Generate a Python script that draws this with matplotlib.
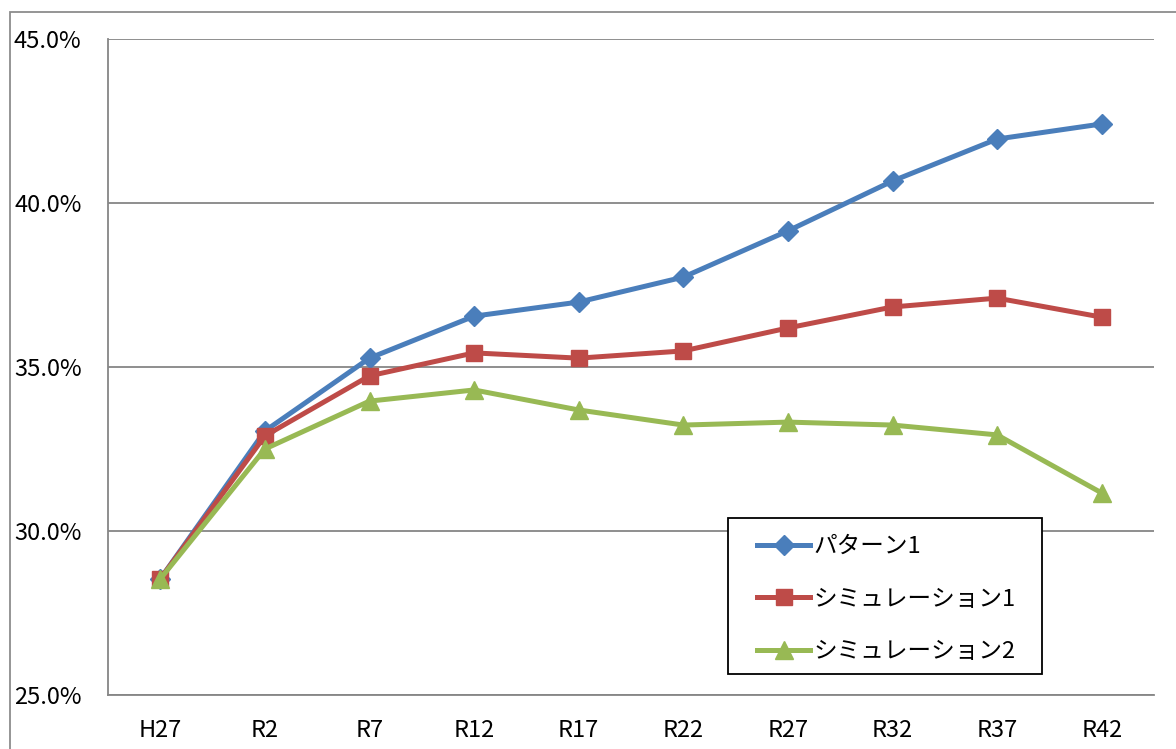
import matplotlib
matplotlib.use("Agg")
import matplotlib.pyplot as plt
from matplotlib.patches import Rectangle
from matplotlib.ticker import FuncFormatter

plt.rcParams['font.family'] = ['Noto Sans CJK JP', 'DejaVu Sans']

categories = ["H27", "R2", "R7", "R12", "R17", "R22", "R27", "R32", "R37", "R42"]
pattern1 = [28.54, 33.05, 35.27, 36.55, 36.98, 37.74, 39.15, 40.67, 41.95, 42.41]
simulation1 = [28.54, 32.90, 34.73, 35.43, 35.27, 35.49, 36.19, 36.83, 37.10, 36.52]
simulation2 = [28.54, 32.50, 33.96, 34.30, 33.69, 33.23, 33.32, 33.23, 32.93, 31.16]
series_names = ["パターン1", "シミュレーション1", "シミュレーション2"]
y_ticks = [25.0, 30.0, 35.0, 40.0, 45.0]

W, H = 1176, 749
fig = plt.figure(figsize=(W / 100, H / 100), dpi=100)
ax = fig.add_axes([108 / W, (H - 695) / H, (1154 - 108) / W, (695 - 39) / H])


def px(xp, yp):
    """Pixel position (from top-left) to figure fraction."""
    return xp / W, (H - yp) / H


# outer chart frame
fig.patches.append(Rectangle((10 / W, -0.1), 1.2, (H - 12) / H + 0.1,
                             transform=fig.transFigure, fill=False,
                             edgecolor="#8c8c8c", linewidth=1.3, zorder=0))

x = list(range(len(categories)))
ax.plot(x, pattern1, color="#4A7EBB", lw=3.6, marker="D", ms=10.5,
        label=series_names[0], zorder=3)
ax.plot(x, simulation1, color="#BE4B48", lw=3.6, marker="s", ms=11,
        label=series_names[1], zorder=4)
ax.plot(x, simulation2, color="#98B954", lw=3.6, marker="^", ms=12.5,
        label=series_names[2], zorder=5)

ax.set_xlim(-0.5, len(categories) - 0.5)
ax.set_ylim(25, 45)
ax.set_yticks(y_ticks)
ax.yaxis.set_major_formatter(FuncFormatter(lambda v, p: f"{v:.1f}%"))
ax.set_xticks(x)
ax.set_xticklabels(categories)
ax.grid(axis="y", color="#868686", linewidth=1.3)
ax.set_axisbelow(True)
for s in ["top", "right"]:
    ax.spines[s].set_visible(False)
for s in ["left", "bottom"]:
    ax.spines[s].set_color("#868686")
    ax.spines[s].set_linewidth(1.3)
ax.tick_params(axis="both", length=0, labelsize=17, colors="black")
ax.tick_params(axis="y", pad=19)
ax.tick_params(axis="x", pad=17)

# legend box drawn separately so the inner padding can differ per side
bx0, by0 = px(728, 674)
bx1, by1 = px(1042, 518)
fig.patches.append(Rectangle((bx0, by0), bx1 - bx0, by1 - by0,
                             transform=fig.transFigure, facecolor="white",
                             edgecolor="black", linewidth=1.3, zorder=6))

leg = fig.legend(loc="upper left", bbox_to_anchor=px(757, 535),
                 fontsize=17, frameon=False, handlelength=2.25,
                 labelspacing=1.26, borderpad=0, borderaxespad=0,
                 handletextpad=0.15)
leg.set_zorder(7)

fig.savefig("out.png", dpi=100, facecolor="white")
